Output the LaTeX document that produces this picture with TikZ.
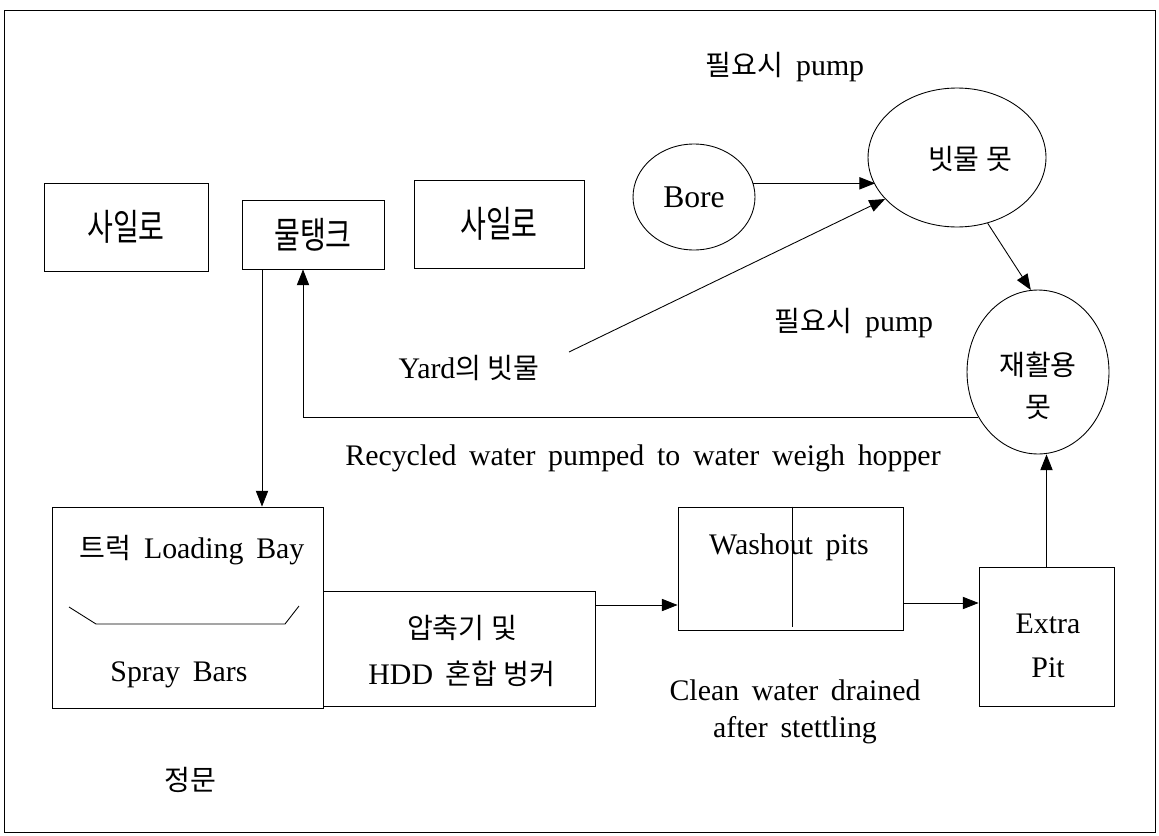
\documentclass[tikz,border=0pt]{standalone}
\usepackage{graphicx}
\usepackage{fontspec}
\setmainfont{Liberation Serif}[WordSpace=1.7]
\newfontfamily\krfont{Noto Sans CJK KR}
\usetikzlibrary{arrows.meta, shapes.geometric, positioning, calc}
\newcommand{\ko}[1]{{\krfont\fontsize{16}{20}\selectfont #1}}
\newcommand{\kobig}[1]{\scalebox{1}[1.3]{\krfont\fontsize{16}{20}\selectfont #1}}
\tikzset{
  box/.style={draw, rectangle, inner sep=0pt},
  pond/.style={draw, ellipse, inner sep=0pt},
  flow/.style={-{Triangle[length=9pt,width=7pt]}},
  every node/.style={font=\fontsize{17}{21}\selectfont}
}

\begin{document}
\begin{tikzpicture}[x=0.02cm, y=-0.02cm, line width=0.5pt]
        \useasboundingbox (0,0) rectangle (1159,835);
        \draw (4,10) rectangle (1155,832);

        \node[box, minimum width=3.28cm, minimum height=1.76cm] (silo1) at (126,227) {\kobig{사일로}};
        \node[box, minimum width=2.84cm, minimum height=1.38cm] (tank) at (313,234.5) {\kobig{물탱크}};
        \node[box, minimum width=3.40cm, minimum height=1.76cm] (silo2) at (499,224) {\kobig{사일로}};

        \node[pond, minimum width=2.44cm, minimum height=2.12cm, font=\fontsize{18}{22}\selectfont] (bore) at (694,197) {Bore};
        \node[pond, minimum width=3.56cm, minimum height=2.78cm] (rain) at (957,157.5) {};
        \node at (970,159) {\ko{빗물 못}};
        \node[pond, minimum width=2.84cm, minimum height=3.28cm] (rpond) at (1038,372) {};
        \node[align=center] (rtxt) at (1038,386) {\ko{재활용}\\[3pt]\ko{못}};

        \node (pump1) at (785,67) {\ko{필요시} pump};
        \node (pump2) at (854,323) {\ko{필요시} pump};
        \node (yard) at (469,368) {Yard\ko{의 빗물}};
        \coordinate (yardend) at (569,352);
        \node (recyc) at (643,458) {Recycled water pumped to water weigh hopper};

        \node[box, minimum width=5.42cm, minimum height=4.02cm] (load) at (187.5,607.5) {};
        \node (loadtxt) at (192,550) {\ko{트럭} Loading Bay};
        \node (spray) at (179,675) {Spray Bars};
        \draw (69,607) -- (96,624) -- (285,624) -- (299,606);

        \node[box, minimum width=5.44cm, minimum height=2.30cm] (press) at (459,648.5) {};
        \node[align=center] (presstxt) at (462,651) {\ko{압축기 및}\\[5pt]HDD \ko{혼합 벙커}};

        \node[box, minimum width=4.5cm, minimum height=2.46cm] (wash) at (790.5,568.5) {};
        \node (washtxt) at (789,547) {Washout pits};
        \draw ([xshift=0.03cm]wash.north) -- ([xshift=0.03cm,yshift=0.06cm]wash.south);

        \node[box, minimum width=2.7cm, minimum height=2.78cm] (extra) at (1046.5,636.5) {};
        \node[align=center] (extratxt) at (1048,646) {Extra\\[4pt]Pit};

        \node[align=center] (clean) at (795,712) {Clean water drained\\after stettling};
        \node (gate) at (190,780) {\ko{정문}};

        \draw[flow] (bore.13) -- (bore.13 -| rain.199);
        \draw[flow] (yardend) -- (rain.210);
        \draw[flow] (rain.295) -- (rpond.95);
        \draw[flow] (rpond.217) -| ([xshift=-0.2cm]tank.south);
        \draw[flow] ([xshift=-1.02cm]tank.south) -- ([xshift=-1.02cm]tank.south |- load.north);
        \draw[flow] ([yshift=0.87cm]press.east) coordinate (p1) -- (p1 -| wash.west);
        \draw[flow] ([yshift=-0.69cm]wash.east) coordinate (w1) -- (w1 -| extra.west);
        \draw[flow] (extra.north) -- (rpond.south -| extra.north);
\end{tikzpicture}
\end{document}
